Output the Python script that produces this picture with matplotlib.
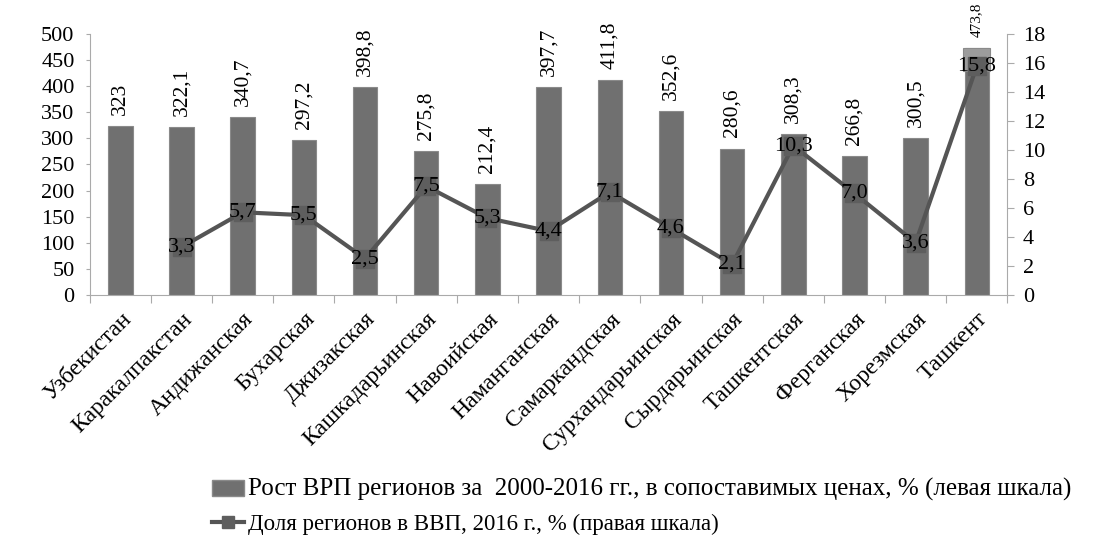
import numpy as np
import matplotlib
matplotlib.use('Agg')
import matplotlib.pyplot as plt
from matplotlib.lines import Line2D
from matplotlib.patches import Patch

plt.rcParams['font.family'] = ['Liberation Serif', 'DejaVu Serif']

regions = ['Узбекистан', 'Каракалпакстан', 'Андижанская', 'Бухарская', 'Джизакская',
           'Кашкадарьинская', 'Навоийская', 'Наманганская', 'Самаркандская',
           'Сурхандарьинская', 'Сырдарьинская', 'Ташкентская', 'Ферганская',
           'Хорезмская', 'Ташкент']
growth = [323, 322.1, 340.7, 297.2, 398.8, 275.8, 212.4, 397.7, 411.8, 352.6,
          280.6, 308.3, 266.8, 300.5, 473.8]
share = [np.nan, 3.3, 5.7, 5.5, 2.5, 7.5, 5.3, 4.4, 7.1, 4.6, 2.1, 10.3, 7.0, 3.6, 15.8]

bar_label = 'Рост ВРП регионов за  2000-2016 гг., в сопоставимых ценах, % (левая шкала)'
line_label = 'Доля регионов в ВВП, 2016 г., % (правая шкала)'

def fmt(v):
    s = ('%g' % v) if float(v).is_integer() else ('%.1f' % v)
    return s.replace('.', ',')

fig = plt.figure(figsize=(10.95, 5.42), dpi=100)
ax = fig.add_axes([0.082, 0.456, 0.838, 0.481])
x = np.arange(len(regions))

bar_col = '#707070'
ax.bar(x, growth, width=0.4, color=bar_col, edgecolor='#8a8a8a', linewidth=0.8, zorder=2)
# lighter top of the last bar
ax.bar(x[-1], growth[-1] - 430, bottom=430, width=0.44, color='#9c9c9c',
       edgecolor='#8a8a8a', linewidth=0.8, zorder=2)

for i, v in enumerate(growth):
    fs = 11 if i == len(growth) - 1 else 15.5
    ax.annotate(fmt(v), (x[i], v), xytext=(0, 8), textcoords='offset points',
                rotation=90, ha='center', va='bottom', fontsize=fs)

ax.set_xlim(-0.5, len(regions) - 0.5)
ax.set_ylim(0, 500)
ax.set_yticks(np.arange(0, 501, 50))
ax.tick_params(axis='y', labelsize=16, length=3, color='#aaaaaa', pad=8)
ax.set_xticks(np.arange(-0.5, len(regions), 1), minor=False)
ax.set_xticklabels([])
ax.set_xticks(x, minor=True)
ax.set_xticklabels(regions, minor=True, rotation=45, ha='right', rotation_mode='anchor', fontsize=17)
ax.tick_params(axis='x', which='major', length=6, color='#aaaaaa', direction='out')
ax.tick_params(axis='x', which='minor', length=0, pad=10)
for sp in ['top', 'right']:
    ax.spines[sp].set_visible(False)
for sp in ['left', 'bottom']:
    ax.spines[sp].set_color('#aaaaaa')

ax2 = ax.twinx()
line_col = '#555555'
ax2.plot(x, share, color=line_col, linewidth=3, marker='s', markersize=13,
         markerfacecolor='#5e5e5e', markeredgecolor='#5e5e5e', zorder=3)
for i, v in enumerate(share):
    if not np.isnan(v):
        ax2.text(x[i], v, ('%.1f' % v).replace('.', ','), ha='center', va='center',
                 fontsize=16, zorder=4)
ax2.set_ylim(0, 18)
ax2.set_yticks(np.arange(0, 19, 2))
ax2.tick_params(axis='y', labelsize=16, length=5, color='#aaaaaa', pad=6)
for sp in ['top', 'left', 'bottom']:
    ax2.spines[sp].set_visible(False)
ax2.spines['right'].set_color('#aaaaaa')

handles = [Patch(facecolor=bar_col, edgecolor='#8a8a8a'),
           Line2D([0], [0], color=line_col, linewidth=3, marker='s', markersize=9,
                  markerfacecolor='#5e5e5e', markeredgecolor='#5e5e5e')]
leg = fig.legend(handles, [bar_label, line_label], loc='upper left', bbox_to_anchor=(0.185, 0.135),
                 frameon=False, fontsize=16.5, handlelength=1.4, handletextpad=0.2,
                 labelspacing=0.55, borderaxespad=0)
leg.get_texts()[0].set_fontsize(18)

fig.savefig('out.png', dpi=100)
